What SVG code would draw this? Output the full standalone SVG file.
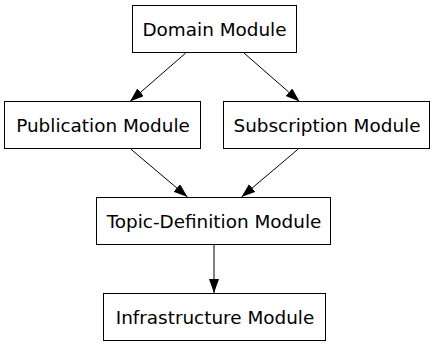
<svg xmlns="http://www.w3.org/2000/svg" width="435" height="347" viewBox="0 0 435 347">
  <defs>
    <marker id="arrow" markerUnits="userSpaceOnUse" markerWidth="15" markerHeight="11" refX="14" refY="5" orient="auto">
      <path d="M0,0 L14,5 L0,10 Z" fill="#000"/>
    </marker>
    <style>
      .box { fill: #fff; stroke: #000; stroke-width: 1; }
      .label { font-family: "DejaVu Sans", sans-serif; font-size: 18.4px; fill: #000; text-anchor: middle; }
      .edge { stroke: #000; stroke-width: 1; fill: none; marker-end: url(#arrow); }
    </style>
  </defs>
  <rect width="435" height="347" fill="#fff"/>

  <g id="connectors">
    <line class="edge" x1="185.7" y1="53" x2="130" y2="101.5"/>
    <line class="edge" x1="244" y1="53" x2="299.5" y2="101.5"/>
    <line class="edge" x1="130.7" y1="149" x2="187.5" y2="197"/>
    <line class="edge" x1="298.3" y1="149" x2="241.5" y2="197"/>
    <line class="edge" x1="214" y1="244.5" x2="214" y2="293"/>
  </g>

  <g id="domain">
    <rect class="box" x="132.5" y="5.5" width="164" height="47"/>
    <text class="label" x="214.5" y="35.5">Domain Module</text>
  </g>
  <g id="publication">
    <rect class="box" x="4.5" y="101.5" width="196" height="47"/>
    <text class="label" x="103" y="131.5">Publication Module</text>
  </g>
  <g id="subscription">
    <rect class="box" x="223.5" y="101.5" width="206" height="47"/>
    <text class="label" x="327" y="131.5">Subscription Module</text>
  </g>
  <g id="topic-definition">
    <rect class="box" x="96.5" y="197.5" width="234" height="47"/>
    <text class="label" x="214" y="227.5">Topic-Definition Module</text>
  </g>
  <g id="infrastructure">
    <rect class="box" x="103.5" y="293.5" width="222" height="47"/>
    <text class="label" x="215" y="323.5">Infrastructure Module</text>
  </g>
</svg>
